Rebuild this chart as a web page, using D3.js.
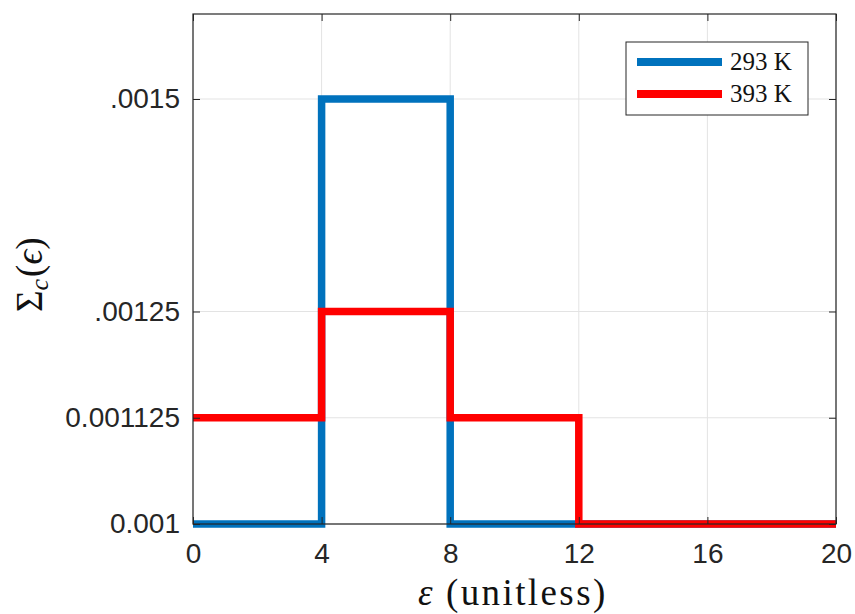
<!DOCTYPE html>
<html>
<head>
<meta charset="utf-8">
<script src="https://cdn.jsdelivr.net/npm/d3@7"></script>
<style>
  html, body { margin: 0; padding: 0; background: #fff; }
  svg { display: block; }
</style>
</head>
<body>
<svg id="chart" width="855" height="614"></svg>
<script>
// ---- data ----
const binEdges = [0, 4, 8, 12, 16, 20];
const values293 = [0.001, 0.0015, 0.001, 0.001, 0.001];
const values393 = [0.001125, 0.00125, 0.001125, 0.001, 0.001];
const seriesNames = ["293 K", "393 K"];
const seriesColors = ["#0072BD", "#FF0000"];
const xTicks = [0, 4, 8, 12, 16, 20];
const yTicks = [0.001, 0.001125, 0.00125, 0.0015];
const yTickLabels = ["0.001", "0.001125", ".00125", ".0015"];
const xDomain = [0, 20];
const yDomain = [0.001, 0.0016];

// ---- layout ----
const svg = d3.select("#chart");
const L = 193, R = 836, T = 14, B = 524;
const x = d3.scaleLinear().domain(xDomain).range([L, R]);
const y = d3.scaleLinear().domain(yDomain).range([B, T]);

// grid
const grid = svg.append("g");
grid.selectAll("line.gx").data(xTicks).join("line")
  .attr("x1", d => x(d)).attr("x2", d => x(d)).attr("y1", T).attr("y2", B)
  .attr("stroke", "#e3e3e3").attr("stroke-width", 1);
grid.selectAll("line.gy").data(yTicks).join("line")
  .attr("y1", d => y(d)).attr("y2", d => y(d)).attr("x1", L).attr("x2", R)
  .attr("stroke", "#e3e3e3").attr("stroke-width", 1);

// series
function stairs(vals) {
  const pts = vals.map((v, i) => [binEdges[i], v]);
  pts.push([binEdges[binEdges.length - 1], vals[vals.length - 1]]);
  return pts;
}
const line = d3.line().x(d => x(d[0])).y(d => y(d[1])).curve(d3.curveStepAfter);
[values293, values393].forEach((vals, i) => {
  svg.append("path").attr("d", line(stairs(vals)))
    .attr("fill", "none").attr("stroke", seriesColors[i])
    .attr("stroke-width", 7.5).attr("stroke-linejoin", "miter").attr("stroke-linecap", "butt");
});

// axes box and ticks (inside)
const axColor = "#262626";
const tickFont = "'Liberation Sans', Arial, Helvetica, sans-serif";
const xAxis = d3.axisBottom(x).tickValues(xTicks).tickSizeInner(-7).tickSizeOuter(0).tickPadding(19);
const gx = svg.append("g").attr("transform", `translate(0,${B})`).call(xAxis);
gx.select(".domain").remove();
gx.selectAll(".tick line").attr("stroke", axColor);
gx.selectAll(".tick text").attr("fill", axColor).style("font-family", tickFont).style("font-size", "28px");

const xAxisTop = d3.axisTop(x).tickValues(xTicks).tickSizeInner(-7).tickSizeOuter(0).tickFormat("");
const gxt = svg.append("g").attr("transform", `translate(0,${T})`).call(xAxisTop);
gxt.select(".domain").remove();
gxt.selectAll(".tick line").attr("stroke", axColor);

const yAxis = d3.axisLeft(y).tickValues(yTicks).tickSizeInner(-7).tickSizeOuter(0).tickPadding(13)
  .tickFormat((d, i) => yTickLabels[i]);
const gy = svg.append("g").attr("transform", `translate(${L},0)`).call(yAxis);
gy.select(".domain").remove();
gy.selectAll(".tick line").attr("stroke", axColor);
gy.selectAll(".tick text").attr("fill", axColor).style("font-family", tickFont).style("font-size", "28px");

const yAxisR = d3.axisRight(y).tickValues(yTicks).tickSizeInner(-7).tickSizeOuter(0).tickFormat("");
const gyr = svg.append("g").attr("transform", `translate(${R},0)`).call(yAxisR);
gyr.select(".domain").remove();
gyr.selectAll(".tick line").attr("stroke", axColor);

svg.append("rect").attr("x", L).attr("y", T).attr("width", R - L).attr("height", B - T)
  .attr("fill", "none").attr("stroke", axColor).attr("stroke-width", 1.2);

// axis labels
const serifFont = "'Liberation Serif', 'Times New Roman', serif";
const xl = svg.append("text").attr("x", 418).attr("y", 605)
  .style("font-family", serifFont).style("font-size", "37px").attr("fill", "#111")
  .style("letter-spacing", "2.4px");
xl.append("tspan").style("font-style", "italic").text("ε");
xl.append("tspan").attr("dx", 11).text("(unitless)");

const yl = svg.append("text").attr("transform", `translate(42,312) rotate(-90)`)
  .style("font-family", serifFont).style("font-size", "37px").attr("fill", "#111");
yl.append("tspan").text("Σ");
yl.append("tspan").style("font-style", "italic").style("font-size", "26px").attr("dy", 6).text("c");
yl.append("tspan").attr("dy", -6).attr("dx", 2).text("(");
yl.append("tspan").style("font-style", "italic").text("ϵ");
yl.append("tspan").text(")");

// legend
const lg = svg.append("g");
lg.append("rect").attr("x", 626).attr("y", 42).attr("width", 182).attr("height", 73)
  .attr("fill", "#fff").attr("stroke", axColor).attr("stroke-width", 1);
seriesNames.forEach((name, i) => {
  const cy = 62 + i * 32;
  lg.append("line").attr("x1", 637).attr("x2", 722).attr("y1", cy).attr("y2", cy)
    .attr("stroke", seriesColors[i]).attr("stroke-width", 8);
  lg.append("text").attr("x", 730).attr("y", cy + 8)
    .style("font-family", serifFont).style("font-size", "25px").attr("fill", "#111")
    .text(name);
});
</script>
</body>
</html>
